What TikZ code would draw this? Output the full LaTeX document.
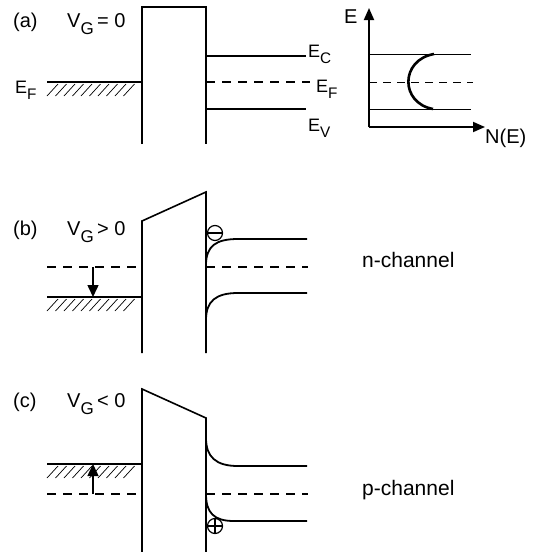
\documentclass[tikz,border=0pt]{standalone}
\usepackage{fontspec}
\setmainfont{Liberation Sans}
\usetikzlibrary{arrows.meta}

\newcommand{\lowsub}[1]{\raisebox{-0.38em}{\scalebox{0.85}{#1}}}

\tikzset{
    wall/.style={line width=1.6pt},
    band/.style={line width=1.8pt},
    fermi/.style={line width=1.5pt, dash pattern=on 9pt off 7pt},
    thinband/.style={line width=1pt},
    hatchline/.style={line width=0.7pt},
    shiftarrow/.style={line width=1.5pt, -{Triangle[length=12pt,width=11pt]}},
    axisarrow/.style={line width=1.8pt, -{Triangle[length=12pt,width=10pt]}},
    lbl/.style={font=\fontsize{20}{23}\selectfont, anchor=base west, inner sep=0pt},
    elbl/.style={font=\fontsize{18}{21}\selectfont, anchor=base west, inner sep=0pt},
    chlbl/.style={font=\fontsize{21}{24}\selectfont, anchor=base west, inner sep=0pt},
    carrier/.style={circle, draw, line width=1.2pt, minimum size=15pt, inner sep=0pt}
}

\begin{document}
\begin{tikzpicture}[x=1pt,y=-1pt]
    \useasboundingbox (0,0) rectangle (538,552);

    % (a) flat bands
    \draw[wall] (142,144) -- (142,7) -- (206,7) -- (206,144);
    \draw[band] (47,82) -- (142,82);
    \foreach \hx in {47,55.5,...,131} \draw[hatchline] (\hx,96) -- (\hx+11,84);
    \draw[band] (206,56) -- (306,56);
    \draw[fermi] (206,82) -- (310,82);
    \draw[band] (206,109) -- (306,109);
    % labels
    \node[lbl] (a-tag) at (13,27) {(a)};
    \node[lbl] (a-vg) at (67,27) {V\lowsub{G}\,= 0};
    \node[elbl] (a-efl) at (15,93) {E\lowsub{F}};
    \node[elbl] (a-ec) at (308,57) {E\lowsub{C}};
    \node[elbl] (a-efr) at (316,92) {E\lowsub{F}};
    \node[elbl] (a-ev) at (308,131) {E\lowsub{V}};

    % (a) density of states
    \coordinate (dos-o) at (369,127);
    \coordinate (dos-e) at (369,8);
    \coordinate (dos-n) at (485,127);
    \draw[axisarrow] (dos-o) -- (dos-e);
    \draw[axisarrow] (dos-o) -- (dos-n);
    \draw[thinband] (369,54) -- (471,54);
    \draw[thinband, dash pattern=on 8pt off 6pt] (369,82) -- (473,82);
    \draw[thinband] (369,109) -- (471,109);
    \draw[line width=2.6pt] (434,54) .. controls (400,60) and (400,103) .. (433,109);
    \node[lbl] (dos-elbl) at (344,23) {E};
    \node[lbl] (dos-nlbl) at (485,143) {N(E)};

    % (b) positive gate voltage
    \draw[wall] (142,353) -- (142,221) -- (206,192) -- (206,353);
    \draw[fermi] (47,267) -- (138,267);
    \draw[band] (47,297) -- (142,297);
    \foreach \hx in {47,55.5,...,131} \draw[hatchline] (\hx,311) -- (\hx+11,299);
    \coordinate (b-old) at (93,267);
    \coordinate (b-new) at (93,297);
    \draw[shiftarrow] (b-old) -- (b-new);
    \draw[band] (206,265) .. controls (206,246) and (216,239) .. (238,239) -- (307,239);
    \draw[fermi] (206,267) -- (308,267);
    \draw[band] (206,320) .. controls (206,301) and (216,293) .. (238,293) -- (307,293);
    \node[carrier] (b-elec) at (215,233) {};
    \draw[line width=1.2pt] (b-elec.west) -- (b-elec.east);
    % labels
    \node[lbl] (b-tag) at (13,235) {(b)};
    \node[lbl] (b-vg) at (67,235) {V\lowsub{G}\,> 0};
    \node[chlbl] (b-ch) at (362,267) {n-channel};

    % (c) negative gate voltage
    \draw[wall] (142,552) -- (142,389) -- (206,418) -- (206,552);
    \draw[band] (47,464) -- (142,464);
    \foreach \hx in {47,55.5,...,131} \draw[hatchline] (\hx,478) -- (\hx+11,466);
    \draw[fermi] (47,494) -- (138,494);
    \coordinate (c-old) at (93,494);
    \coordinate (c-new) at (93,464);
    \draw[shiftarrow] (c-old) -- (c-new);
    \draw[band] (206,438) .. controls (206,457) and (216,466) .. (238,466) -- (307,466);
    \draw[fermi] (206,494) -- (308,494);
    \draw[band] (206,494) .. controls (206,513) and (214,521) .. (234,521) -- (307,521);
    \node[carrier] (c-hole) at (215,526) {};
    \draw[line width=1.2pt] (c-hole.west) -- (c-hole.east);
    \draw[line width=1.2pt] (c-hole.north) -- (c-hole.south);
    % labels
    \node[lbl] (c-tag) at (13,407) {(c)};
    \node[lbl] (c-vg) at (67,407) {V\lowsub{G}\,< 0};
    \node[chlbl] (c-ch) at (362,495) {p-channel};
\end{tikzpicture}
\end{document}
